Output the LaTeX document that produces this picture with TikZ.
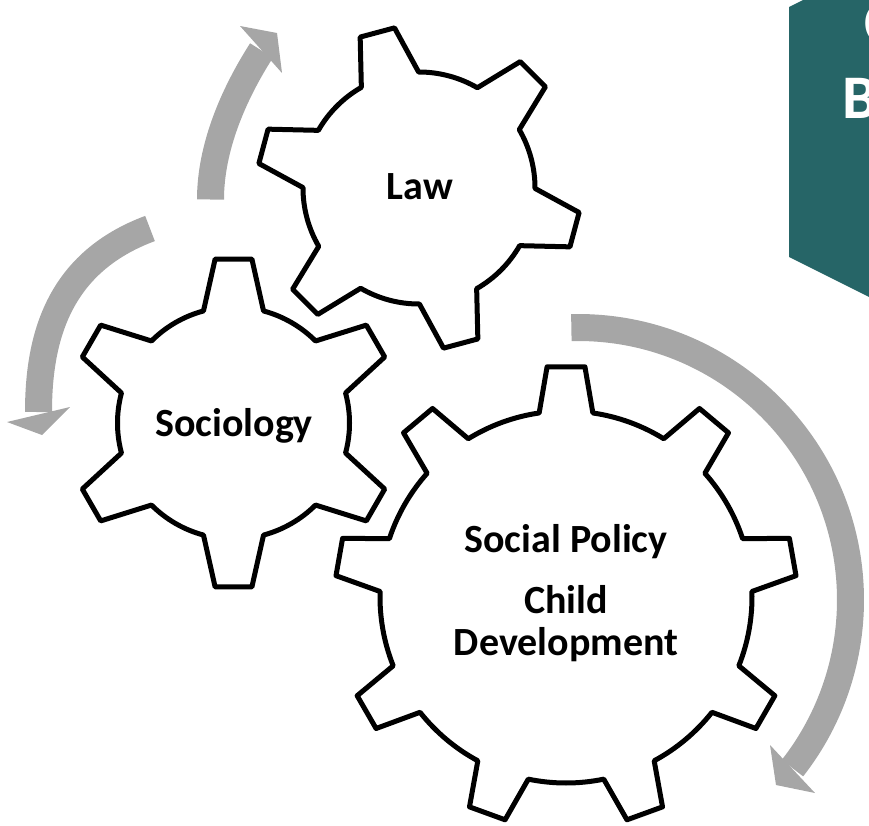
\documentclass[tikz,border=0pt]{standalone}
\usepackage{fontspec}
\setmainfont{Carlito}
\usetikzlibrary{calc}
\definecolor{arrowgray}{RGB}{166,166,166}
\definecolor{boxteal}{RGB}{38,101,103}

\begin{document}
\begin{tikzpicture}[x=1pt,y=-1pt,
  gear/.style={draw=black, line width=5pt, line join=round, fill=white},
  gearlabel/.style={font=\bfseries\fontsize{40}{42}\selectfont, inner sep=0pt, align=center},
  cyclearrow/.style={draw=arrowgray, line width=27pt},
  arrowtip/.style={fill=arrowgray},
  tabletter/.style={font=\bfseries\fontsize{62}{70}\selectfont, text=white, inner sep=0pt, anchor=base west}]
\useasboundingbox (0,0) rectangle (869,825);
\clip (0,0) rectangle (869,825);

% teal tab at the right edge
\fill[boxteal] (789,7) -- (803,0) -- (869,0) -- (869,297) -- (789,257) -- cycle;
\node[tabletter] (tabC) at (864,43) {C};
\node[tabletter] (tabB) at (842,118) {B};

% gear centres
\coordinate (lawc) at (419,188);
\coordinate (socc) at (233.5,423);
\coordinate (polc) at (566,597);
\coordinate (turnc) at (578,600);

% turning arrows
\draw[cyclearrow] (210.5,199.5) .. controls (210.5,148) and (233,95) .. (261.5,50.5);
\fill[arrowtip] (240,26) -- (277,33) -- (282,73) -- cycle;
\draw[cyclearrow] (150,228.5) .. controls (60,262) and (38.5,335) .. (38.5,412);
\fill[arrowtip] (7,422) -- (70,407) -- (42,435) -- cycle;
\draw[cyclearrow] ($(turnc)+(-91.4:272.5)$) arc[start angle=-91.4, end angle=38.1, radius=272.5];
\fill[arrowtip] (770,745) -- (815,793) -- (776,785) -- cycle;

% gears
\draw[gear] ($(lawc)+(240.2:116)$) foreach \a in {255,315,15,75,135,195} {
  -- ($(lawc)+(\a-6.3:162)$) -- ($(lawc)+(\a+6.3:162)$) -- ($(lawc)+(\a+14.8:116)$)
  arc[start angle=\a+14.8, end angle=\a+45.2, radius=116]} -- cycle;
\draw[gear] ($(socc)+(255:116)$) foreach \a in {270,330,30,90,150,210} {
  -- ($(socc)+(\a-6.4:165)$) -- ($(socc)+(\a+6.4:165)$) -- ($(socc)+(\a+15:116)$)
  arc[start angle=\a+15, end angle=\a+45, radius=116]} -- cycle;
\draw[gear] ($(polc)+(261.7:186)$) foreach \a in {270,310,350,30,70,110,150,190,230} {
  -- ($(polc)+(\a-4.7:231)$) -- ($(polc)+(\a+4.7:231)$) -- ($(polc)+(\a+8.3:186)$)
  arc[start angle=\a+8.3, end angle=\a+31.7, radius=186]} -- cycle;

% labels
\node[gearlabel, anchor=base] (law) at (420,199) {Law};
\node[gearlabel, anchor=base] (soc) at (234,436) {Sociology};
\node[gearlabel] (pol) at (566,593) {Social Policy\\[19pt]Child\\Development};

\end{tikzpicture}
\end{document}
